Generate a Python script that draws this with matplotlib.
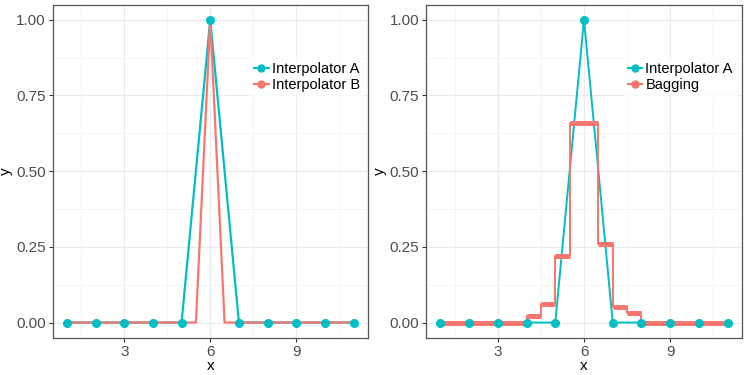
import matplotlib.pyplot as plt
from matplotlib.lines import Line2D

# data
x = [1, 2, 3, 4, 5, 6, 7, 8, 9, 10, 11]
interp_a = [0, 0, 0, 0, 0, 1, 0, 0, 0, 0, 0]

interp_b_x = [1, 2, 3, 4, 5, 5.5, 6, 6.5, 7, 8, 9, 10, 11]
interp_b_y = [0, 0, 0, 0, 0, 0, 1, 0, 0, 0, 0, 0, 0]

bag_edges = [1, 4, 4.5, 5, 5.5, 6.5, 7, 7.5, 8, 11]
bag_values = [0, 0.02, 0.06, 0.22, 0.66, 0.26, 0.05, 0.03, 0]

teal = "#00BFC4"
red = "#F8766D"

plt.rcParams['font.family'] = ['Liberation Sans', 'DejaVu Sans']

fig = plt.figure(figsize=(7.47, 3.75), dpi=100)
ax1 = fig.add_axes([0.0703, 0.0995, 0.4223, 0.8885])
ax2 = fig.add_axes([0.5703, 0.0995, 0.4230, 0.8885])


def style_axes(ax):
    ax.set_xlim(0.5, 11.5)
    ax.set_ylim(-0.05, 1.05)
    ax.set_xticks([3, 6, 9])
    ax.set_xticks([1.5, 4.5, 7.5, 10.5], minor=True)
    ax.set_yticks([0, 0.25, 0.5, 0.75, 1.0])
    ax.set_yticklabels(["0.00", "0.25", "0.50", "0.75", "1.00"])
    ax.set_yticks([0.125, 0.375, 0.625, 0.875], minor=True)
    ax.grid(True, which='major', color='#EBEBEB', lw=0.8)
    ax.grid(True, which='minor', color='#F2F2F2', lw=0.5)
    ax.set_axisbelow(True)
    for s in ax.spines.values():
        s.set_color('#555555')
        s.set_linewidth(0.9)
    ax.tick_params(which='major', length=3, width=0.8, color='#333333',
                   labelsize=11, labelcolor='#4D4D4D', pad=2)
    ax.tick_params(which='minor', length=0)
    ax.set_xlabel("x", fontsize=11, labelpad=0)
    ax.set_ylabel("y", fontsize=11, labelpad=2)


def add_legend(ax, label_b):
    handles = [
        Line2D([], [], color=teal, lw=1.5, marker='o', markersize=5),
        Line2D([], [], color=red, lw=1.5, marker='o', markersize=5),
    ]
    leg = ax.legend(handles, ["Interpolator A", label_b], loc='upper left',
                    bbox_to_anchor=(0.625, 0.84), fontsize=10.5, frameon=True,
                    handlelength=1.0, handletextpad=0.2, labelspacing=0.1,
                    borderpad=0.3, borderaxespad=0, fancybox=False)
    leg.get_frame().set_facecolor('white')
    leg.get_frame().set_edgecolor('none')


# left panel
ax1.plot(x, interp_a, color=teal, lw=1.6, zorder=2)
ax1.plot(interp_b_x, interp_b_y, color=red, lw=1.6, zorder=3)
ax1.plot(x, interp_a, ls='none', marker='o', markersize=5.5, color=teal, zorder=4)
style_axes(ax1)
add_legend(ax1, "Interpolator B")

# right panel
ax2.plot(x, interp_a, color=teal, lw=1.4, zorder=2)
ax2.step(bag_edges, bag_values + [bag_values[-1]], where='post', color=red, lw=1.4, zorder=3)
ax2.hlines(bag_values, bag_edges[:-1], bag_edges[1:], color=red, lw=3.6, zorder=3)
ax2.plot(x, interp_a, ls='none', marker='o', markersize=5.5, color=teal, zorder=4)
style_axes(ax2)
add_legend(ax2, "Bagging")

fig.savefig("out.png", dpi=100)
